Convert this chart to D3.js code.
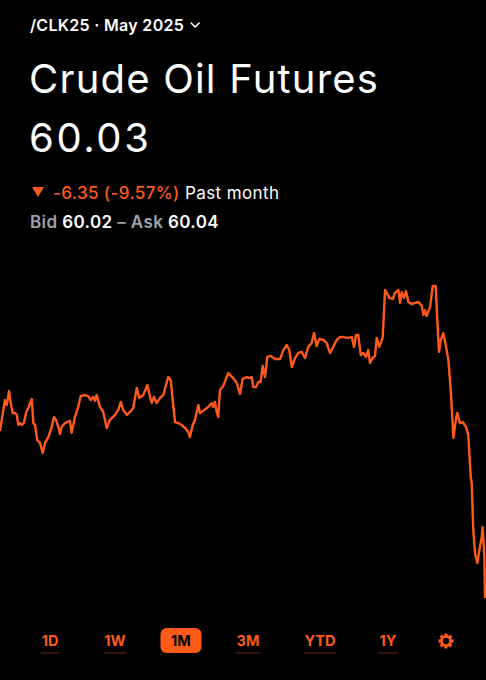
<!DOCTYPE html>
<html>
<head>
<meta charset="utf-8">
<script src="https://cdn.jsdelivr.net/npm/d3@7"></script>
<style>
  html, body { margin: 0; padding: 0; background: #000; }
  svg { display: block; font-family: Inter, "Noto Sans", sans-serif; }
</style>
</head>
<body>
<svg id="chart" width="486" height="680"></svg>
<script>
// ---- data (day offsets within the past month, futures price) ----
const days = [0,0.21,0.32,0.43,0.58,0.68,0.81,0.96,1.07,1.17,1.28,1.39,1.53,1.66,1.81,2.03,2.13,2.24,2.38,2.56,2.73,2.88,3.09,3.30,3.45,3.58,3.73,3.84,3.94,4.15,4.47,4.58,4.79,5.00,5.16,5.43,5.64,5.80,5.96,6.07,6.18,6.39,6.60,6.82,7.03,7.35,7.56,7.72,7.88,8.10,8.31,8.52,8.74,8.90,9.16,9.42,9.59,9.70,9.84,10.02,10.23,10.44,10.61,10.76,10.91,11.04,11.19,11.40,11.61,11.83,12.04,12.14,12.32,12.46,12.68,12.78,13.04,13.31,13.53,13.63,13.74,13.85,13.95,14.06,14.27,14.59,14.91,15.13,15.34,15.51,15.77,15.98,16.09,16.19,16.36,16.51,16.66,16.79,16.94,17.09,17.30,17.58,17.90,18.11,18.33,18.49,18.65,18.86,19.07,19.28,19.50,19.71,19.92,20.07,20.24,20.41,20.67,20.88,21.09,21.30,21.52,21.73,21.94,22.26,22.48,22.63,22.76,22.90,23.06,23.22,23.39,23.54,23.65,23.82,23.97,24.08,24.24,24.46,24.61,24.72,24.88,25.10,25.25,25.46,25.57,25.68,25.82,25.95,26.10,26.32,26.53,26.74,26.96,27.06,27.17,27.27,27.49,27.66,27.85,27.95,28.06,28.17,28.34,28.51,28.66,28.81,28.98,29.15,29.23,29.40,29.58,29.79,29.93,30.09,30.15,30.25,30.36,30.51,30.64,30.79,30.85,30.96,31.00];
const prices = [66.34,67.13,67.51,67.32,67.85,67.40,67.02,67.02,66.95,66.57,66.64,66.57,66.64,67.02,67.21,67.55,66.64,66.57,66.00,65.89,65.51,65.89,66.11,66.49,66.87,66.76,66.49,66.23,66.49,66.64,66.72,66.27,66.87,67.25,67.66,67.70,67.66,67.51,67.63,67.48,67.70,67.25,67.06,66.45,66.76,66.95,67.13,67.44,67.13,66.95,67.06,67.21,67.97,67.59,67.70,68.08,67.63,67.40,67.63,67.40,67.59,67.70,68.08,68.38,68.27,67.51,66.68,66.64,66.57,66.45,66.30,66.11,66.57,66.76,67.32,67.02,67.13,67.25,67.40,67.25,67.44,67.06,66.87,67.89,68.04,68.53,68.34,68.16,67.74,68.31,68.38,68.34,68.38,68.00,68.00,68.19,68.19,68.80,68.38,69.14,69.18,69.06,69.06,69.40,69.59,69.40,68.76,69.10,69.29,69.33,69.10,69.52,69.67,70.04,69.55,69.82,69.78,69.67,69.29,69.52,69.78,69.89,69.89,69.86,69.89,69.52,69.97,69.97,69.21,69.29,69.14,69.40,68.91,69.10,69.18,69.86,69.52,69.86,71.67,71.56,71.37,71.33,71.56,71.67,71.18,71.59,71.37,71.63,71.22,71.14,71.18,71.22,71.07,70.73,70.91,70.69,71.03,71.82,71.82,70.54,69.33,69.78,70.04,69.52,69.02,67.89,66.08,66.83,67.02,66.64,66.68,66.49,66.19,64.60,64.38,62.60,61.73,61.35,61.84,62.33,62.71,61.58,60.03];

const symbol = "/CLK25 · May 2025";
const title = "Crude Oil Futures";
const lastPrice = "60.03";
const change = "-6.35 (-9.57%)";
const period = "Past month";
const bid = "60.02", ask = "60.04";
const ranges = ["1D", "1W", "1M", "3M", "YTD", "1Y"];
const activeRange = "1M";

const ORANGE = "#ff5a1a";
const svg = d3.select("#chart");

// ---- header ----
const hdr = svg.append("text").attr("x", 30).attr("y", 31)
  .attr("fill", "#fff").attr("font-size", 16).attr("font-weight", 600)
  .attr("letter-spacing", 0.3).text(symbol);
const hw = hdr.node().getComputedTextLength();
svg.append("path")
  .attr("d", `M${30 + hw + 7},${23} l4,4 l4,-4`)
  .attr("fill", "none").attr("stroke", "#fff").attr("stroke-width", 1.6)
  .attr("stroke-linecap", "round").attr("stroke-linejoin", "round");

svg.append("text").attr("x", 29).attr("y", 93)
  .attr("fill", "#fff").attr("font-size", 40).attr("font-weight", 400)
  .attr("letter-spacing", 1.2).text(title);
svg.append("text").attr("x", 29).attr("y", 152)
  .attr("fill", "#fff").attr("font-size", 40).attr("font-weight", 400)
  .attr("letter-spacing", 2.6).text(lastPrice);

// change line
svg.append("path").attr("d", "M32,187 L44,187 L38,197 Z").attr("fill", ORANGE);
const ch = svg.append("text").attr("x", 53).attr("y", 199)
  .attr("font-size", 17).attr("font-weight", 500).attr("letter-spacing", 0.4);
ch.append("tspan").attr("fill", ORANGE).text(change);
ch.append("tspan").attr("fill", "#fff").attr("font-weight", 400).text(" " + period);

const ba = svg.append("text").attr("x", 30).attr("y", 228)
  .attr("font-size", 17).attr("font-weight", 600).attr("letter-spacing", 0.4);
ba.append("tspan").attr("fill", "#9ea3ab").text("Bid ");
ba.append("tspan").attr("fill", "#fff").text(bid);
ba.append("tspan").attr("fill", "#9ea3ab").text(" – Ask ");
ba.append("tspan").attr("fill", "#fff").text(ask);

// ---- line chart ----
const x = d3.scaleLinear().domain(d3.extent(days)).range([0, 485]);
const y = d3.scaleLinear().domain(d3.extent(prices)).range([598, 286]);
const pts = days.map((d, i) => [d, prices[i]]);
const line = d3.line().x(d => x(d[0])).y(d => y(d[1])).curve(d3.curveLinear);
svg.append("path").datum(pts)
  .attr("d", line).attr("fill", "none").attr("stroke", ORANGE)
  .attr("stroke-width", 2.4).attr("stroke-linejoin", "round");

// ---- range selector ----
const centers = [50, 115, 181, 248, 320, 388];
const g = svg.append("g");
ranges.forEach((r, i) => {
  const cx = centers[i];
  if (r === activeRange) {
    g.append("rect").attr("x", cx - 20.5).attr("y", 628).attr("width", 41).attr("height", 25)
      .attr("rx", 6).attr("fill", ORANGE);
    g.append("text").attr("x", cx).attr("y", 646).attr("text-anchor", "middle")
      .attr("font-size", 14.5).attr("font-weight", 700).attr("fill", "#000").text(r);
  } else {
    const t = g.append("text").attr("x", cx).attr("y", 646).attr("text-anchor", "middle")
      .attr("font-size", 14.5).attr("font-weight", 700).attr("fill", ORANGE).text(r);
    const w = t.node().getComputedTextLength() + 2;
    g.append("line").attr("x1", cx - w / 2).attr("x2", cx + w / 2)
      .attr("y1", 653).attr("y2", 653).attr("stroke", "#6e2a10").attr("stroke-width", 1);
  }
});
// gear icon
const gx = 446, gy = 641;
const gear = g.append("g").attr("transform", `translate(${gx},${gy})`);
for (let k = 0; k < 8; k++) {
  gear.append("rect").attr("x", -1.6).attr("y", -7.5).attr("width", 3.2).attr("height", 4)
    .attr("fill", ORANGE).attr("transform", `rotate(${k * 45})`);
}
gear.append("circle").attr("r", 4.6).attr("fill", "none").attr("stroke", ORANGE).attr("stroke-width", 2.6);
</script>
</body>
</html>
